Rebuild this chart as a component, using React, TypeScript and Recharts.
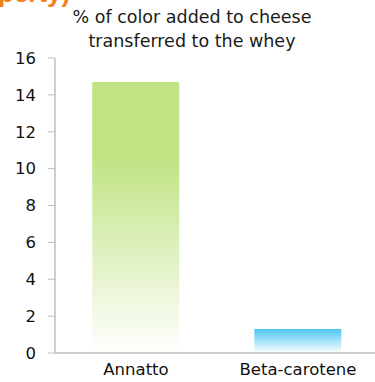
import { BarChart, Bar, XAxis, YAxis, Cell } from 'recharts'

const categories = ['Annatto', 'Beta-carotene']
const transferred = [14.7, 1.3]
const yTicks = [0, 2, 4, 6, 8, 10, 12, 14, 16]
const barColors = ['#c0e384', '#4ec6f2']

const data = categories.map((name, i) => ({ name, value: transferred[i] }))

const font = '"DejaVu Sans", sans-serif'

export default function App() {
  return (
    <div style={{ position: 'absolute', left: 0, top: 0, width: 375, height: 382, overflow: 'hidden', background: '#fff', fontFamily: font }}>
      <div style={{ position: 'absolute', left: -2, top: -22, color: '#f0821e', fontSize: 26, fontWeight: 'bold', fontFamily: '"Liberation Sans", sans-serif' }}>
        perty)
      </div>
      <div style={{ position: 'absolute', left: 0, width: 384, top: 5, textAlign: 'center', fontSize: 17.5, lineHeight: '24px', color: '#1a1a1a' }}>
        % of color added to cheese
        <br />
        transferred to the whey
      </div>
      <BarChart
        width={380}
        height={382}
        data={data}
        margin={{ top: 58, right: 1, left: 0, bottom: 0 }}
        barCategoryGap="23%"
      >
        <defs>
          <linearGradient id="g0" x1="0" y1="0" x2="0" y2="1">
            <stop offset="0%" stopColor={barColors[0]} />
            <stop offset="28%" stopColor={barColors[0]} />
            <stop offset="100%" stopColor="#ffffff" />
          </linearGradient>
          <linearGradient id="g1" x1="0" y1="0" x2="0" y2="1">
            <stop offset="0%" stopColor={barColors[1]} />
            <stop offset="100%" stopColor="#ffffff" />
          </linearGradient>
        </defs>
        <XAxis
          dataKey="name"
          height={29}
          tickLine={false}
          tickSize={0}
          tickMargin={10}
          axisLine={{ stroke: '#bfbfbf', strokeWidth: 1.5 }}
          tick={{ fill: '#111', fontSize: 16.5, fontFamily: font }}
        />
        <YAxis
          width={55}
          domain={[0, 16]}
          ticks={yTicks}
          interval={0}
          tickSize={7}
          tickMargin={12}
          axisLine={{ stroke: '#bfbfbf', strokeWidth: 1.5 }}
          tickLine={{ stroke: '#bfbfbf' }}
          tick={{ fill: '#111', fontSize: 16.5, fontFamily: font }}
        />
        <Bar dataKey="value" isAnimationActive={false}>
          {data.map((d, i) => (
            <Cell key={d.name} fill={`url(#g${i})`} />
          ))}
        </Bar>
      </BarChart>
    </div>
  )
}
